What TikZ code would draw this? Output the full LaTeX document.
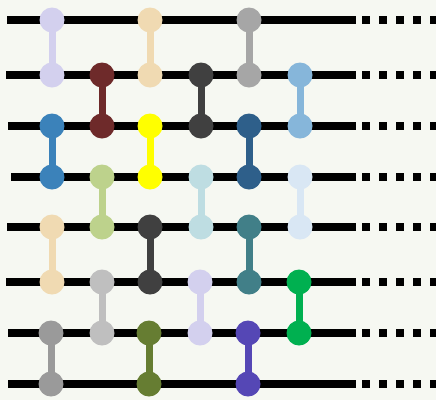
\documentclass[tikz,border=0pt]{standalone}
\definecolor{bgc}{HTML}{F6F8F2}
\definecolor{cLav}{HTML}{D3D0EE}
\definecolor{cSteel}{HTML}{3B82BA}
\definecolor{cWheat}{HTML}{F0DAB2}
\definecolor{cGrayA}{HTML}{9A9A9A}
\definecolor{cDarkRed}{HTML}{6E2A2A}
\definecolor{cLGreen}{HTML}{BDD28C}
\definecolor{cSilver}{HTML}{BFBFBF}
\definecolor{cYellow}{HTML}{FFFF00}
\definecolor{cDGray}{HTML}{404040}
\definecolor{cOlive}{HTML}{667D32}
\definecolor{cLBlue}{HTML}{BEDDE2}
\definecolor{cGrayB}{HTML}{A6A6A6}
\definecolor{cDBlue}{HTML}{2E5F8A}
\definecolor{cTeal}{HTML}{417F88}
\definecolor{cPurple}{HTML}{5547B5}
\definecolor{cSky}{HTML}{86B6DA}
\definecolor{cPale}{HTML}{D9E7F4}
\definecolor{cGreen}{HTML}{00B050}
\pgfdeclarelayer{paper}
\pgfdeclarelayer{wires}
\pgfdeclarelayer{bars}
\pgfsetlayers{paper,wires,bars,main}
\tikzset{
  qubit/.style={line width=8pt,black},
  tail/.style={line width=8pt,black,dash pattern=on 8pt off 9pt},
  dot/.style={circle,fill=#1,draw=none,minimum size=25pt,inner sep=0pt},
  bar/.style={line width=7pt,#1},
}
\begin{document}
\begin{tikzpicture}[x=1pt,y=-1pt]
\begin{pgfonlayer}{paper}
\fill[bgc] (0,0) rectangle (436,400);
\end{pgfonlayer}
\useasboundingbox (0,0) rectangle (436,400);
% wires
\begin{pgfonlayer}{wires}
\foreach \i/\yy/\s in {1/20/7,2/75/6,3/126/8,4/177/11,5/227/7,6/282/6,7/333/8,8/384/8}{
  \coordinate (w\i s) at (\s,\yy);
  \coordinate (w\i e) at (356,\yy);
  \coordinate (w\i d) at (362,\yy);
  \coordinate (w\i z) at (436,\yy);
  \draw[qubit] (w\i s) -- (w\i e);
  \draw[tail] (w\i d) -- (w\i z);
}
\end{pgfonlayer}
% gates: name/x/y top/y bottom/colour
\foreach \n/\gx/\ya/\yb/\c in {
  g11/52/20/75/cLav, g12/52/126/177/cSteel, g13/52/227/282/cWheat, g14/51/333/384/cGrayA,
  g21/102/75/126/cDarkRed, g22/102/177/227/cLGreen, g23/102/282/333/cSilver,
  g31/150/20/75/cWheat, g32/150/126/177/cYellow, g33/150/227/282/cDGray, g34/149/333/384/cOlive,
  g41/201/75/126/cDGray, g42/201/177/227/cLBlue, g43/200/282/333/cLav,
  g51/249/20/75/cGrayB, g52/249/126/177/cDBlue, g53/249/227/282/cTeal, g54/248/333/384/cPurple,
  g61/300/75/126/cSky, g62/300/177/227/cPale, g63/299/282/333/cGreen}{
  \node[dot=\c] (\n t) at (\gx,\ya) {};
  \node[dot=\c] (\n b) at (\gx,\yb) {};
  \begin{pgfonlayer}{bars}
    \draw[bar=\c] (\n t.center) -- (\n b.center);
  \end{pgfonlayer}
}
\end{tikzpicture}
\end{document}
